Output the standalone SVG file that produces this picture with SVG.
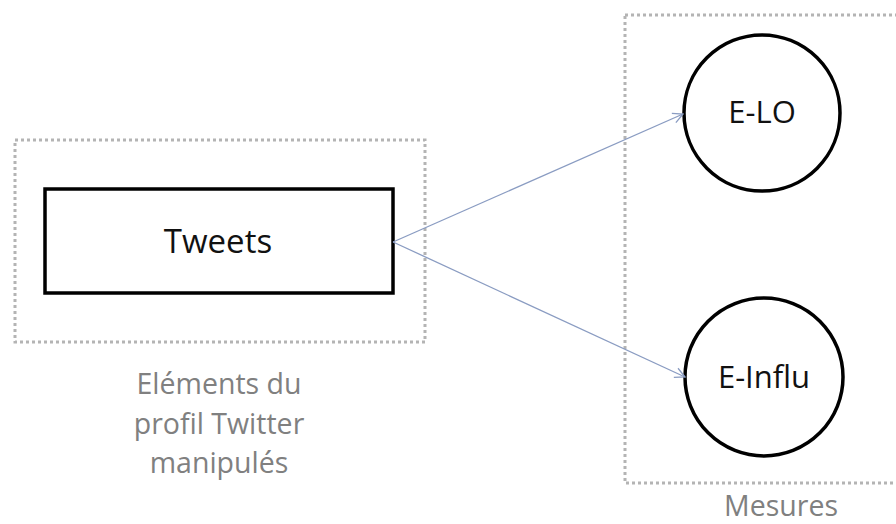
<svg xmlns="http://www.w3.org/2000/svg" width="896" height="524" viewBox="0 0 896 524">
<defs>
<style>
.group{fill:none;stroke:#b4b4b4;stroke-width:3;stroke-dasharray:3 3;}
.node{fill:#fff;stroke:#000;stroke-width:3.5;}
.lbl{font-family:"Open Sans","Liberation Sans",sans-serif;font-size:31px;fill:#111;text-anchor:middle;}
.glbl{font-family:"Open Sans","Liberation Sans",sans-serif;font-size:28.5px;fill:#808080;text-anchor:middle;}
.conn{fill:none;stroke:#8a9cc2;stroke-width:1.3;}
</style>
<marker id="arr" viewBox="0 0 12 12" refX="11" refY="6" markerWidth="12" markerHeight="12" markerUnits="userSpaceOnUse" orient="auto">
<path d="M1,1 L11,6 L1,11" fill="none" stroke="#8a9cc2" stroke-width="1.3"/>
</marker>
</defs>
<rect width="896" height="524" fill="#fff"/>
<g id="group-profil">
<rect class="group" x="15" y="140" width="410" height="202"/>
<text class="glbl" x="219" y="394">Eléments du</text>
<text class="glbl" x="219" y="434">profil Twitter</text>
<text class="glbl" x="219" y="473">manipulés</text>
</g>
<g id="group-mesures">
<rect class="group" x="625" y="15" width="290" height="468"/>
<text class="glbl" x="781" y="516">Mesures</text>
</g>
<g id="tweets">
<rect class="node" x="45" y="189" width="348" height="104"/>
<text class="lbl" x="218" y="253" style="font-size:33px">Tweets</text>
</g>
<g id="elo">
<circle class="node" cx="762" cy="113" r="78"/>
<text class="lbl" x="762" y="123">E-LO</text>
</g>
<g id="einflu">
<circle class="node" cx="764" cy="377" r="79"/>
<text class="lbl" x="764" y="388">E-Influ</text>
</g>
<g id="connectors">
<line class="conn" x1="393" y1="242" x2="683" y2="114" marker-end="url(#arr)"/>
<line class="conn" x1="393" y1="242" x2="685" y2="377" marker-end="url(#arr)"/>
</g>
</svg>
